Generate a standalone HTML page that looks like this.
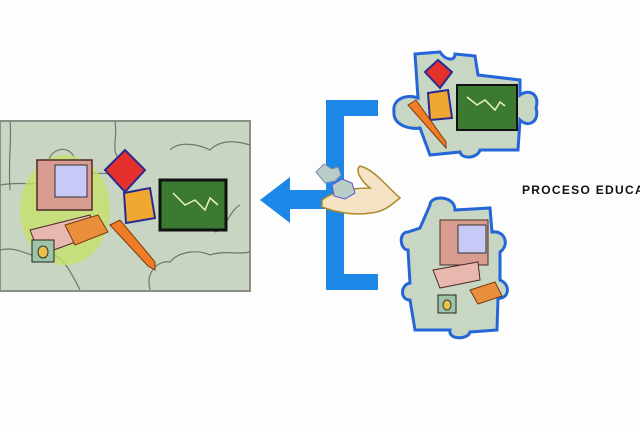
<!DOCTYPE html>
<html><head><meta charset="utf-8"><style>
html,body{margin:0;padding:0;background:#fff;width:640px;height:426px;overflow:hidden}
</style></head><body>
<svg width="640" height="426" viewBox="0 0 640 426" xmlns="http://www.w3.org/2000/svg">
<rect width="640" height="426" fill="#fdfdfd"/>
<rect x="0" y="121" width="250" height="170" fill="#c9d5c3" stroke="#8a8f88" stroke-width="2"/>
<g fill="none" stroke="#6f776c" stroke-width="1.2">
<path d="M0 185 C30 180 40 190 50 175 C40 150 70 140 75 160 C80 180 100 170 115 175"/>
<path d="M115 121 C118 140 110 150 120 160 M170 150 C180 140 200 145 210 150 C220 140 235 140 250 145"/>
<path d="M0 250 C20 245 30 260 45 255 C60 250 70 270 80 290"/>
<path d="M150 290 C145 270 160 260 170 262 C180 250 200 250 210 255 C225 250 240 255 250 252"/>
<path d="M215 232 C225 230 230 210 240 205"/>
<path d="M10 121 C12 140 8 160 10 190"/>
</g>
<ellipse cx="65" cy="210" rx="45" ry="55" fill="#c6e06a" opacity=".8"/>
<path d="M30 230 L90 215 L95 235 L40 255 Z" fill="#e8b8b0" stroke="#4a2a2a"/>
<rect x="37" y="160" width="55" height="50" fill="#d89c90" stroke="#4a2a2a" stroke-width="1.5"/>
<rect x="55" y="165" width="32" height="32" fill="#c7c9f6" stroke="#333"/>
<rect x="32" y="240" width="22" height="22" fill="#9ec4a8" stroke="#222"/>
<ellipse cx="43" cy="252" rx="5" ry="6" fill="#e8c24a" stroke="#333"/>
<path d="M65 225 L98 215 L108 232 L75 245 Z" fill="#e98f3c" stroke="#7a3a10"/>
<path d="M105 170 L125 150 L145 170 L125 192 Z" fill="#e6302c" stroke="#2a2a90" stroke-width="2"/>
<path d="M124 193 L150 188 L155 218 L126 223 Z" fill="#f1a830" stroke="#2a2a90" stroke-width="2"/>
<path d="M110 225 L120 220 L155 262 L155 270 L148 266 Z" fill="#ef7c26" stroke="#7a3a10"/>
<rect x="160" y="180" width="66" height="50" fill="#3c7a32" stroke="#111" stroke-width="3"/>
<path d="M173 193 L185 205 L195 200 L205 210 L210 198 L218 205" fill="none" stroke="#e8f2c0" stroke-width="1.5"/>
<path d="M260 200 L290 177 L290 190 L330 190 L330 209 L290 209 L290 223 Z" fill="#1d87e8"/>
<rect x="326" y="100" width="18" height="190" fill="#1d87e8"/>
<rect x="326" y="100" width="52" height="16" fill="#1d87e8"/>
<rect x="326" y="274" width="52" height="16" fill="#1d87e8"/>
<path d="M322 200 C335 190 355 188 370 188 C360 180 355 170 360 166 C375 170 385 185 400 198 C392 204 385 212 370 213 C355 216 335 212 322 207 Z" fill="#f4e3c4" stroke="#a98a2a" stroke-width="1.5"/>
<path d="M316 172 l8 -8 l8 5 l6 -2 l3 8 l-6 6 l-10 2 Z" fill="#b8ccc8" stroke="#88a"/>
<path d="M332 185 l10 -6 l10 4 l3 10 l-10 6 l-11 -3 Z" fill="#b8ccc8" stroke="#55c"/>
<path d="M415 54 L440 52 C445 60 455 62 455 54 L475 56 L478 75 L520 80 L520 95 C530 88 540 95 536 108 C540 122 528 128 520 120 L518 150 L480 150 C478 158 462 160 460 152 L430 155 L420 128 C410 130 393 125 394 112 C392 98 408 94 418 98 Z" fill="#c8d6c4" stroke="#2466d8" stroke-width="3"/>
<path d="M425 72 L438 60 L452 72 L440 88 Z" fill="#e6302c" stroke="#2a2a90" stroke-width="2"/>
<path d="M428 93 L448 90 L452 118 L430 120 Z" fill="#f1a830" stroke="#2a2a90" stroke-width="2"/>
<path d="M408 105 L416 100 L446 142 L446 148 Z" fill="#ef7c26" stroke="#7a3a10"/>
<rect x="457" y="85" width="60" height="45" fill="#3c7a32" stroke="#111" stroke-width="2"/>
<path d="M467 97 L477 105 L485 100 L495 110 L500 102 L505 106" fill="none" stroke="#e8f2c0" stroke-width="1.5"/>
<path d="M430 205 C430 195 455 195 455 210 L490 208 L492 232 C505 230 510 245 500 252 L500 280 C512 285 508 300 498 298 L497 330 L470 332 C468 340 448 340 450 330 L415 330 L410 300 C400 300 400 285 410 283 L408 250 C400 250 398 232 408 232 L420 228 Z" fill="#c8d6c4" stroke="#2466d8" stroke-width="3"/>
<rect x="440" y="220" width="48" height="45" fill="#d89c90" stroke="#4a2a2a"/>
<rect x="458" y="225" width="28" height="28" fill="#c7c9f6" stroke="#333"/>
<path d="M433 270 L478 262 L480 280 L440 288 Z" fill="#e8b8b0" stroke="#4a2a2a"/>
<path d="M470 290 L495 282 L502 296 L478 304 Z" fill="#e98f3c" stroke="#7a3a10"/>
<rect x="438" y="295" width="18" height="18" fill="#9ec4a8" stroke="#222"/>
<ellipse cx="447" cy="305" rx="4" ry="5" fill="#e8c24a" stroke="#333"/>
<text x="522" y="194" font-family="Liberation Sans, sans-serif" font-weight="bold" font-size="12" letter-spacing="1.3" fill="#111">PROCESO EDUCATIVO</text>
</svg>
</body></html>
